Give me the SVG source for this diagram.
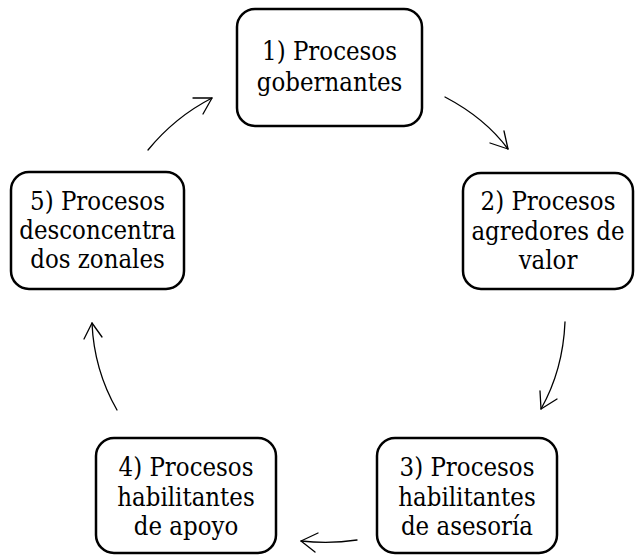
<svg xmlns="http://www.w3.org/2000/svg" width="638" height="555" viewBox="0 0 638 555">
<style>
.box{fill:#fff;stroke:#000;stroke-width:2.5}
text{font-family:"DejaVu Serif Condensed","DejaVu Serif","Liberation Serif",serif;font-stretch:condensed;font-size:25.5px;text-anchor:middle;fill:#000}
.c{fill:none;stroke:#000;stroke-width:1.3;stroke-linecap:round;stroke-linejoin:round}
</style>
<rect width="638" height="555" fill="#fff"/>
<g id="connectors">
<path class="c" d="M445,97 Q485,118 508,149"/>
<path class="c" d="M504,131 L508,149 L490,143"/>
<path class="c" d="M565,322 Q563,370 541,409"/>
<path class="c" d="M540,391 L541,409 L557,399"/>
<path class="c" d="M357,540 Q330,544 301,541"/>
<path class="c" d="M318,533 L301,541 L315,552"/>
<path class="c" d="M117,410 Q94,370 92,323"/>
<path class="c" d="M84,339 L92,323 L102,337"/>
<path class="c" d="M148,150 Q175,117 212,98"/>
<path class="c" d="M193,98 L212,98 L203,114"/>
</g>
<g id="node1">
<rect class="box" x="237" y="9" width="185" height="117" rx="18"/>
<text x="329.5" y="60">1) Procesos</text>
<text x="329.5" y="91">gobernantes</text>
</g>
<g id="node2">
<rect class="box" x="463" y="173" width="170" height="116" rx="18"/>
<text x="548" y="210">2) Procesos</text>
<text x="548" y="240">agredores de</text>
<text x="548" y="269">valor</text>
</g>
<g id="node3">
<rect class="box" x="377" y="438" width="180" height="115" rx="18"/>
<text x="467" y="476">3) Procesos</text>
<text x="467" y="506">habilitantes</text>
<text x="467" y="535">de asesoría</text>
</g>
<g id="node4">
<rect class="box" x="96" y="438" width="180" height="115" rx="18"/>
<text x="186" y="476">4) Procesos</text>
<text x="186" y="506">habilitantes</text>
<text x="186" y="535">de apoyo</text>
</g>
<g id="node5">
<rect class="box" x="11" y="172" width="173" height="117" rx="18"/>
<text x="97.5" y="210">5) Procesos</text>
<text x="97.5" y="239">desconcentra</text>
<text x="97.5" y="268">dos zonales</text>
</g>
</svg>
